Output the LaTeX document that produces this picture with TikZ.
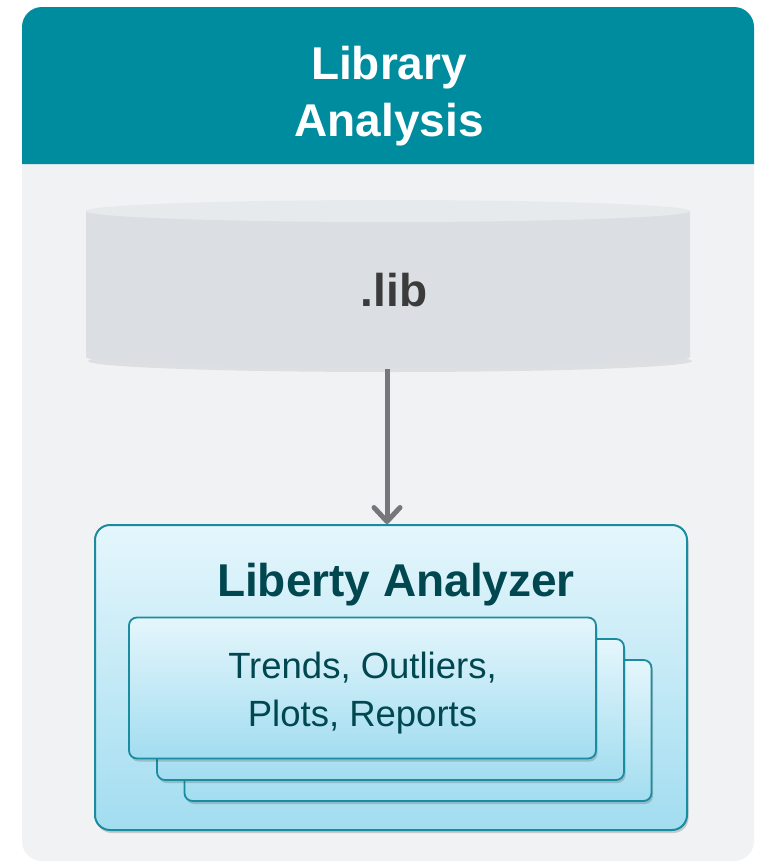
\documentclass[tikz,border=0pt]{standalone}
\usepackage{fontspec}
\setmainfont{Liberation Sans}
\usetikzlibrary{arrows.meta,shadows}

\definecolor{headteal}{HTML}{008C9F}
\definecolor{panelgray}{HTML}{F1F2F4}
\definecolor{cylside}{HTML}{DBDFE3}
\definecolor{cyltop}{HTML}{E7EAED}
\definecolor{libgray}{HTML}{3B3B3B}
\definecolor{arrowgray}{HTML}{77767B}
\definecolor{boxline}{HTML}{1A8C9F}
\definecolor{boxtop}{HTML}{E5F6FC}
\definecolor{boxbottom}{HTML}{A2DDF0}
\definecolor{titleteal}{HTML}{00474F}

\tikzset{
  softshadow/.style={drop shadow={shadow xshift=1.5pt, shadow yshift=-3pt, opacity=0.25, fill=black!70}},
  analyzerbox/.style={draw=boxline, line width=2pt, rounded corners=15pt, top color=boxtop, bottom color=boxbottom,
    minimum width=592pt, minimum height=305pt, inner sep=0pt, softshadow},
  card/.style={draw=boxline, line width=1.8pt, rounded corners=8pt, top color=boxtop, bottom color=boxbottom,
    minimum width=467pt, minimum height=141pt, inner sep=0pt, softshadow},
  headtext/.style={text=white, align=center, inner sep=0pt, font=\fontsize{46pt}{57pt}\selectfont\bfseries},
  libtext/.style={text=libgray, inner sep=0pt, font=\fontsize{46pt}{56pt}\selectfont\bfseries},
  boxtitle/.style={text=titleteal, inner sep=0pt, font=\fontsize{46pt}{56pt}\selectfont\bfseries},
  cardtext/.style={text=titleteal, align=center, inner sep=0pt, font=\fontsize{36.5pt}{48pt}\selectfont},
  flow/.style={draw=arrowgray, line width=5pt, -{Straight Barb[length=14pt, width=26pt, round]}},
}

\begin{document}
\begin{tikzpicture}[x=1pt, y=-1pt]

  % Rahmen
  \useasboundingbox (0,0) rectangle (764,862);
  \fill[white] (0,0) rectangle (764,862);
  \fill[panelgray, rounded corners=20pt] (22,7) rectangle (754,861);
  \fill[headteal] (22,164) [rounded corners=20pt] -- (22,7) -- (754,7) [sharp corners] -- (754,164) -- cycle;
  \node[headtext] (header) at (389,96) {Library\\Analysis};

  % Zylinder fuer .lib
  \fill[black, opacity=0.08] (390,361) ellipse [x radius=302, y radius=11];
  \fill[cylside] (86,211) -- (86,357) arc[start angle=180, end angle=0, x radius=302, y radius=11] -- (690,211) -- cycle;
  \fill[cyltop] (388,211) ellipse [x radius=302, y radius=11];
  \node[libtext] (lib) at (394,290) {.lib};
  \coordinate (libbottom) at (387,369);

  % Liberty Analyzer mit Karten
  \node[analyzerbox] (analyzer) at (391,677.5) {};
  \node[boxtitle] (analyzertitle) at (396,585) {Liberty Analyzer};
  \node[card] (card3) at (418,730.5) {};
  \node[card] (card2) at (390.5,709.5) {};
  \node[card] (card1) at (362.5,688) {};
  \node[cardtext] (trends) at (362.5,693.5) {Trends, Outliers,\\Plots, Reports};

  % Pfeil
  \draw[flow] (libbottom) -- (libbottom |- analyzer.north);

\end{tikzpicture}
\end{document}
